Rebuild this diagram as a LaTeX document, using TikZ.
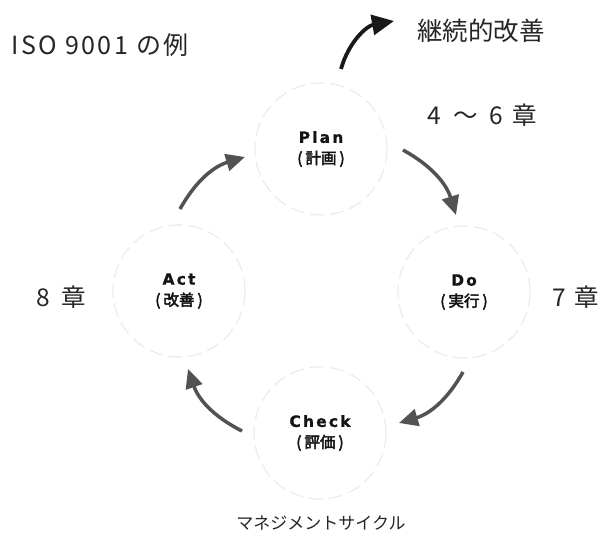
\documentclass[tikz,border=0pt]{standalone}
\usepackage{fontspec}
\setmainfont{Noto Sans CJK JP}
\newfontfamily\cjkb[FakeBold=3]{Noto Sans CJK JP}
\newfontfamily\latb[LetterSpace=14,FakeBold=1]{DejaVu Sans Bold}
\newfontfamily\isofont[LetterSpace=10]{Noto Sans CJK JP}
\usetikzlibrary{arrows.meta}
\newcommand{\jlab}[1]{{\cjkb (\hspace{3pt}#1\hspace{3pt})}}
\begin{document}
\begin{tikzpicture}[x=1pt,y=-1pt,
  stage/.style={circle,draw=black!8,dashed,dash pattern=on 14pt off 6pt,line width=1.2pt,minimum size=132pt,inner sep=0pt,align=center,font=\fontsize{15.5}{21}\selectfont,text=black!92},
  cyc/.style={draw=black!68,line width=3.5pt,-{Triangle[length=19pt,width=17pt,fill=black!68]}},
  lbl/.style={font=\fontsize{24.5}{26}\selectfont,text=black!85,inner sep=0pt}]
\useasboundingbox (0,0) rectangle (598,535);
\node[stage] (plan) at (321,149) {{\latb Plan}\\\jlab{計画}};
\node[stage] (do) at (464,292) {{\latb Do}\\\jlab{実行}};
\node[stage] (check) at (320,433) {{\latb Check}\\\jlab{評価}};
\node[stage] (act) at (179,291) {{\latb Act}\\\jlab{改善}};
\coordinate (a1) at (180,209); \coordinate (a2) at (245,157);
\coordinate (p1) at (403,150); \coordinate (p2) at (456,215);
\coordinate (d1) at (463,372); \coordinate (d2) at (399,423);
\coordinate (c1) at (242,431); \coordinate (c2) at (188,369);
\coordinate (k1) at (341,69); \coordinate (k2) at (394,21);
\draw[cyc] (a1) to[bend left=22] (a2);
\draw[cyc] (p1) to[bend left=22] (p2);
\draw[cyc] (d1) to[bend left=22] (d2);
\draw[cyc] (c1) to[bend left=22] (c2);
\draw[draw=black!90,line width=3.8pt,-{Triangle[length=22pt,width=20pt,fill=black!90]}] (k1) to[bend left=32] (k2);
\node[lbl,anchor=west,font=\fontsize{25}{26}\isofont] (iso) at (11,45) {ISO 9001 の例};
\node[lbl,anchor=west,font=\fontsize{25.5}{27}\selectfont] (kaizen) at (417,31) {継続的改善};
\node[lbl,anchor=west] (ch46) at (427,115) {4\hspace{13pt}～\hspace{11pt}6\hspace{10pt}章};
\node[lbl,anchor=west] (ch7) at (552,297) {7\hspace{9pt}章};
\node[lbl,anchor=west] (ch8) at (36,297) {8\hspace{12pt}章};
\node[font=\fontsize{17}{19}\selectfont,text=black!85,inner sep=0pt] (mc) at (321,523) {マネジメントサイクル};
\end{tikzpicture}
\end{document}
